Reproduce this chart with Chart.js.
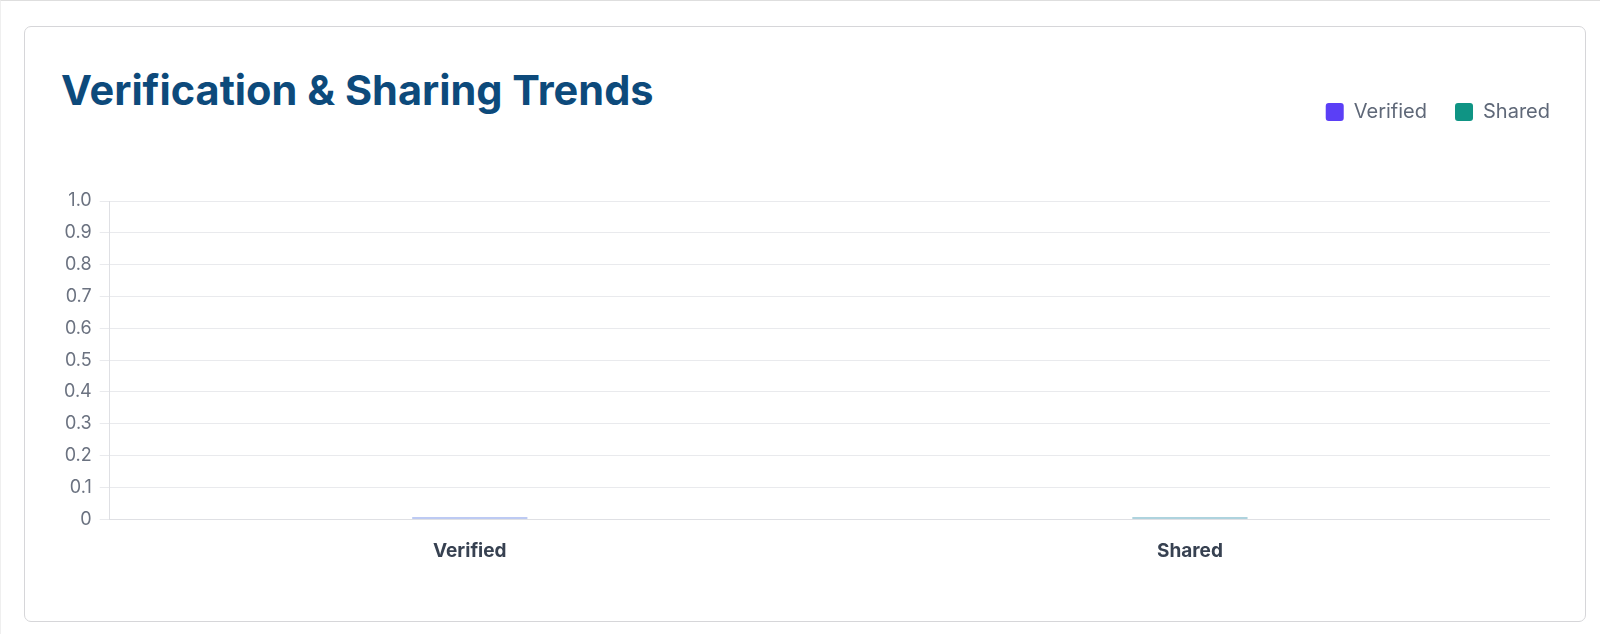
<!DOCTYPE html>
<html>
<head>
<meta charset="utf-8">
<script src="https://cdn.jsdelivr.net/npm/chart.js@4.4.1/dist/chart.umd.min.js"></script>
<style>
  html, body { margin: 0; padding: 0; background: #fff; }
  body {
    width: 1600px; height: 634px; overflow: hidden; position: relative;
    font-family: Inter, "Noto Sans", sans-serif;
  }
  .frame {
    position: absolute; left: 0; top: 0; width: 1600px; height: 634px; box-sizing: border-box;
    border-top: 1px solid #dedede; border-left: 1px solid #efefef;
  }
  .card {
    position: absolute; left: 24px; top: 26px; width: 1562px; height: 596px;
    border: 1.5px solid #d6d6d9; border-radius: 7px; box-sizing: border-box;
  }
  .title {
    position: absolute; left: 61px; top: 70px; margin: 0; line-height: 1;
    font-size: 41.5px; font-weight: 700; color: #0d4a7b;
  }
  .chart-holder {
    position: absolute; left: 56px; top: 74px; width: 1494px; height: 502px;
  }
</style>
</head>
<body>
<div class="frame"></div>
<div class="card"></div>
<h2 class="title">Verification &amp; Sharing Trends</h2>
<div class="chart-holder"><canvas id="chart"></canvas></div>
<script>
  const categories = ['Verified', 'Shared'];
  const verifiedValues = [0, null];
  const sharedValues = [null, 0];

  const LEGEND_PADDING = 28;

  // push the plot down under the legend, and let the legend end flush with the plot
  const legendSpacer = {
    id: 'legendSpacer',
    beforeInit(chart) {
      const fit = chart.legend.fit;
      chart.legend.fit = function () {
        fit.bind(chart.legend)();
        this.height += 69;
      };
    },
    afterUpdate(chart) {
      chart.legend.right += LEGEND_PADDING;
    },
  };

  const chart = new Chart(document.getElementById('chart'), {
    type: 'bar',
    data: {
      labels: categories,
      datasets: [
        {
          label: 'Verified',
          data: verifiedValues,
          backgroundColor: 'rgba(80, 115, 225, 0.5)',
          minBarLength: 2,
          barPercentage: 0.2,
          skipNull: true,
        },
        {
          label: 'Shared',
          data: sharedValues,
          backgroundColor: 'rgba(40, 140, 170, 0.5)',
          minBarLength: 2,
          barPercentage: 0.2,
          skipNull: true,
        },
      ],
    },
    options: {
      responsive: true,
      maintainAspectRatio: false,
      animation: false,
      layout: { padding: 0 },
      plugins: {
        legend: {
          display: true,
          position: 'top',
          align: 'end',
          labels: {
            boxWidth: 18,
            boxHeight: 18,
            useBorderRadius: true,
            borderRadius: 3,
            color: '#5f6878',
            padding: LEGEND_PADDING,
            font: { family: 'Inter', size: 20 },
            generateLabels: (c) => c.data.datasets.map((ds, i) => ({
              text: ds.label,
              fillStyle: ['#5b3ff6', '#0f9484'][i],
              strokeStyle: ['#5b3ff6', '#0f9484'][i],
              lineWidth: 0,
              fontColor: '#5f6878',
              borderRadius: 3,
              datasetIndex: i,
            })),
          },
        },
        tooltip: { enabled: false },
      },
      scales: {
        x: {
          grid: { display: false },
          border: { color: '#dfe0e4' },
          ticks: {
            color: '#374151',
            font: { family: 'Inter', size: 19, weight: '700' },
            padding: 13,
          },
        },
        y: {
          beginAtZero: true,
          grid: { color: '#e9eaed', tickLength: 10 },
          border: { color: '#dfe0e4' },
          ticks: {
            color: '#6b7280',
            padding: 8,
            font: { family: 'Inter', size: 18 },
          },
        },
      },
    },
    plugins: [legendSpacer],
  });
</script>
</body>
</html>
